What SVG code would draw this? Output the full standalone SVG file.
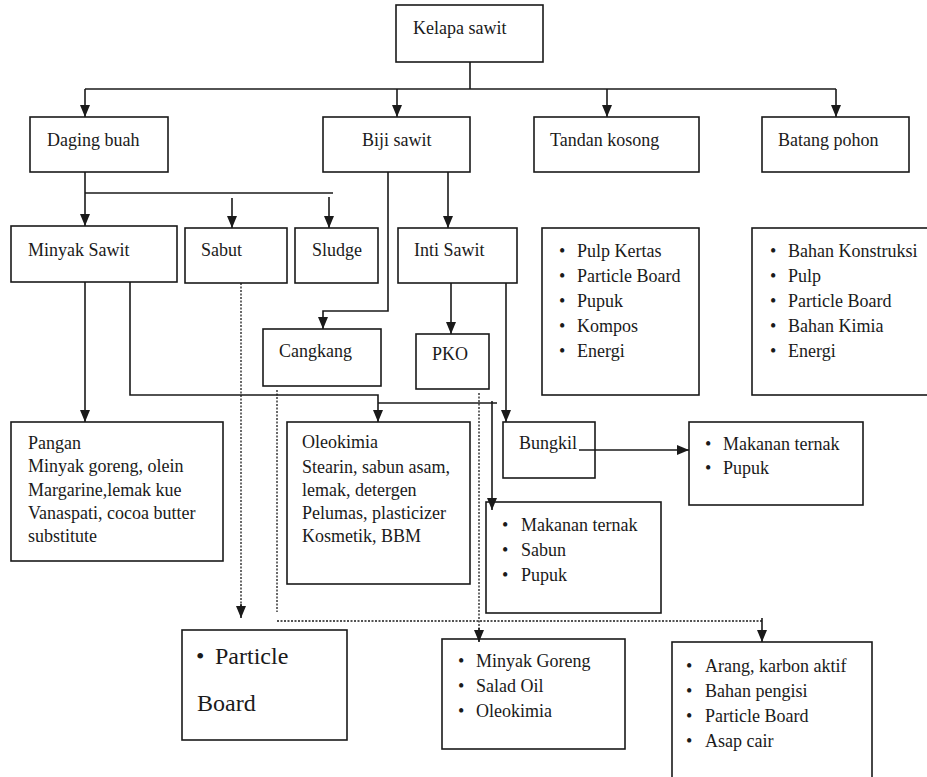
<svg xmlns="http://www.w3.org/2000/svg" width="927" height="777" viewBox="0 0 927 777">
<defs>
<marker id="ah" viewBox="0 0 12 10" markerWidth="12" markerHeight="10" refX="12" refY="5" orient="auto" markerUnits="userSpaceOnUse">
<path d="M0,0 L12,5 L0,10 z" fill="#1a1a1a"/>
</marker>
</defs>
<style>
.box{fill:none;stroke:#1a1a1a;stroke-width:1.6}
.ln{fill:none;stroke:#1a1a1a;stroke-width:1.6}
.dot{fill:none;stroke:#1a1a1a;stroke-width:1.3;stroke-dasharray:2 1.5}
text{font-family:"Liberation Serif","Times New Roman",serif;font-size:18px;fill:#1a1a1a}
.big{font-size:24px}
</style>
<rect width="927" height="777" fill="#ffffff"/>
<g id="connectors">
<path class="ln" d="M470,62 V89"/>
<path class="ln" d="M85,89 H836"/>
<path class="ln" d="M85,89 V117" marker-end="url(#ah)"/>
<path class="ln" d="M397,89 V117" marker-end="url(#ah)"/>
<path class="ln" d="M607,89 V117" marker-end="url(#ah)"/>
<path class="ln" d="M836,89 V117" marker-end="url(#ah)"/>
<path class="ln" d="M85,172 V226" marker-end="url(#ah)"/>
<path class="ln" d="M85,193 H333"/>
<path class="ln" d="M232,198 V228" marker-end="url(#ah)"/>
<path class="ln" d="M329,197 V228" marker-end="url(#ah)"/>
<path class="ln" d="M388,172 V311 H323 V329" marker-end="url(#ah)"/>
<path class="ln" d="M448,172 V228" marker-end="url(#ah)"/>
<path class="ln" d="M451,283 V334" marker-end="url(#ah)"/>
<path class="ln" d="M506,283 V422" marker-end="url(#ah)"/>
<path class="ln" d="M85,282 V422" marker-end="url(#ah)"/>
<path class="ln" d="M130,282 V395 H378 V422" marker-end="url(#ah)"/>
<path class="ln" d="M378,403 H497"/>
<path class="ln" d="M492,401 V510" marker-end="url(#ah)"/>
<path class="ln" d="M579,450 H689" marker-end="url(#ah)"/>
<path class="dot" d="M241,283 V606"/>
<path class="ln" d="M241,604 V618" marker-end="url(#ah)"/>
<path class="dot" d="M277,390 V612"/>
<path class="dot" d="M277,621 H762"/>
<path class="ln" d="M762,618 V642" marker-end="url(#ah)"/>
<path class="dot" d="M479,393 V630"/>
<path class="ln" d="M479,628 V642" marker-end="url(#ah)"/>
</g>
<g id="kelapa-sawit"><rect class="box" x="396" y="5" width="147" height="57"/><text x="413" y="34">Kelapa sawit</text></g>
<g id="daging-buah"><rect class="box" x="30" y="117" width="138" height="55"/><text x="47" y="146">Daging buah</text></g>
<g id="biji-sawit"><rect class="box" x="323" y="117" width="147" height="55"/><text x="362" y="146">Biji sawit</text></g>
<g id="tandan-kosong"><rect class="box" x="534" y="117" width="165" height="55"/><text x="550" y="146">Tandan kosong</text></g>
<g id="batang-pohon"><rect class="box" x="762" y="117" width="147" height="55"/><text x="778" y="146">Batang pohon</text></g>
<g id="minyak-sawit"><rect class="box" x="11" y="226" width="166" height="56"/><text x="28" y="256">Minyak Sawit</text></g>
<g id="sabut"><rect class="box" x="185" y="228" width="102" height="55"/><text x="201" y="256">Sabut</text></g>
<g id="sludge"><rect class="box" x="295" y="228" width="83" height="55"/><text x="312" y="256">Sludge</text></g>
<g id="inti-sawit"><rect class="box" x="398" y="228" width="119" height="55"/><text x="414" y="256">Inti Sawit</text></g>
<g id="tandan-list"><rect class="box" x="542" y="228" width="157" height="167"/>
<text><tspan x="559" y="257">•</tspan><tspan x="577" y="257">Pulp Kertas</tspan></text>
<text><tspan x="559" y="282">•</tspan><tspan x="577" y="282">Particle Board</tspan></text>
<text><tspan x="559" y="307">•</tspan><tspan x="577" y="307">Pupuk</tspan></text>
<text><tspan x="559" y="332">•</tspan><tspan x="577" y="332">Kompos</tspan></text>
<text><tspan x="559" y="357">•</tspan><tspan x="577" y="357">Energi</tspan></text>
</g>
<g id="batang-list"><rect class="box" x="752" y="228" width="180" height="167"/>
<text><tspan x="770" y="257">•</tspan><tspan x="788" y="257">Bahan Konstruksi</tspan></text>
<text><tspan x="770" y="282">•</tspan><tspan x="788" y="282">Pulp</tspan></text>
<text><tspan x="770" y="307">•</tspan><tspan x="788" y="307">Particle Board</tspan></text>
<text><tspan x="770" y="332">•</tspan><tspan x="788" y="332">Bahan Kimia</tspan></text>
<text><tspan x="770" y="357">•</tspan><tspan x="788" y="357">Energi</tspan></text>
</g>
<g id="cangkang"><rect class="box" x="263" y="329" width="118" height="57"/><text x="279" y="357">Cangkang</text></g>
<g id="pko"><rect class="box" x="416" y="334" width="73" height="55"/><text x="432" y="360">PKO</text></g>
<g id="pangan"><rect class="box" x="11" y="422" width="212" height="139"/>
<text x="28" y="449">Pangan</text>
<text x="28" y="472">Minyak goreng, olein</text>
<text x="28" y="496">Margarine,lemak kue</text>
<text x="28" y="519">Vanaspati, cocoa butter</text>
<text x="28" y="542">substitute</text>
</g>
<g id="oleokimia"><rect class="box" x="287" y="422" width="183" height="162"/>
<text x="302" y="448">Oleokimia</text>
<text x="302" y="473">Stearin, sabun asam,</text>
<text x="302" y="496">lemak, detergen</text>
<text x="302" y="519">Pelumas, plasticizer</text>
<text x="302" y="542">Kosmetik, BBM</text>
</g>
<g id="bungkil"><rect class="box" x="503" y="422" width="92" height="56"/><text x="519" y="449">Bungkil</text></g>
<g id="bungkil-list"><rect class="box" x="689" y="422" width="174" height="83"/>
<text><tspan x="705" y="450">•</tspan><tspan x="723" y="450">Makanan ternak</tspan></text>
<text><tspan x="705" y="474">•</tspan><tspan x="723" y="474">Pupuk</tspan></text>
</g>
<g id="pko-list"><rect class="box" x="486" y="502" width="175" height="111"/>
<text><tspan x="502" y="531">•</tspan><tspan x="521" y="531">Makanan ternak</tspan></text>
<text><tspan x="502" y="556">•</tspan><tspan x="521" y="556">Sabun</tspan></text>
<text><tspan x="502" y="581">•</tspan><tspan x="521" y="581">Pupuk</tspan></text>
</g>
<g id="particle-board"><rect class="box" x="182" y="630" width="165" height="110"/>
<text class="big"><tspan x="196" y="664">•</tspan><tspan x="215" y="664">Particle</tspan></text>
<text class="big" x="197" y="711">Board</text>
</g>
<g id="minyak-goreng-list"><rect class="box" x="442" y="639" width="183" height="110"/>
<text><tspan x="458" y="667">•</tspan><tspan x="476" y="667">Minyak Goreng</tspan></text>
<text><tspan x="458" y="692">•</tspan><tspan x="476" y="692">Salad Oil</tspan></text>
<text><tspan x="458" y="717">•</tspan><tspan x="476" y="717">Oleokimia</tspan></text>
</g>
<g id="arang-list"><rect class="box" x="672" y="642" width="200" height="140"/>
<text><tspan x="686" y="672">•</tspan><tspan x="705" y="672">Arang, karbon aktif</tspan></text>
<text><tspan x="686" y="697">•</tspan><tspan x="705" y="697">Bahan pengisi</tspan></text>
<text><tspan x="686" y="722">•</tspan><tspan x="705" y="722">Particle Board</tspan></text>
<text><tspan x="686" y="747">•</tspan><tspan x="705" y="747">Asap cair</tspan></text>
</g>
</svg>
